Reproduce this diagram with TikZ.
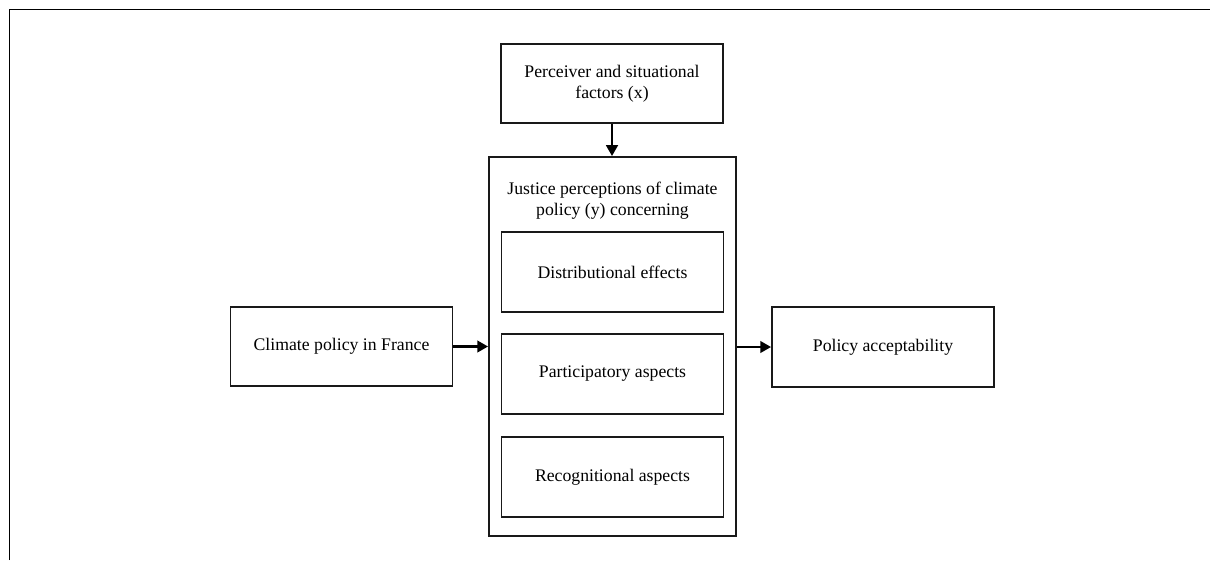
\documentclass[tikz,border=0pt]{standalone}
\usepackage{fontspec}
\setmainfont{Liberation Serif}
\usetikzlibrary{arrows.meta}
\begin{document}
\begin{tikzpicture}[x=0.025cm,y=-0.025cm,
        box/.style={draw=black!90,line width=1.3pt,minimum width=5.55cm,minimum height=1.98cm,inner sep=0pt,align=center,font=\fontsize{12.6}{14.9}\selectfont},
        link/.style={line width=1.7pt,-{Triangle[length=2.7mm,width=2.9mm]}}]
        \useasboundingbox (0,0) rectangle (1210,560);
        % open frame round the figure
        \draw[line width=1.4pt] (9.5,560) -- (9.5,9.5) -- (1210,9.5);
        \node[box] (factors) at (612,83.5) {Perceiver and situational\\factors (x)};
        \node[box,minimum width=6.175cm,minimum height=9.475cm] (justice) at (612.5,346.5) {};
        \node[align=center,font=\fontsize{12.6}{14.9}\selectfont] (head) at (612.5,201) {Justice perceptions of climate\\policy (y) concerning};
        \node[box] (distr) at (612.5,272) {Distributional effects};
        \node[box] (partic) at (612.5,374) {Participatory aspects};
        \node[box] (recog) at (612.5,477) {Recognitional aspects};
        \node[box] (policy) at (341.5,346.5) {Climate policy in France};
        \node[box] (accept) at (883,347) {Policy acceptability};
        \draw[link] (factors) -- (justice.north -| factors);
        \draw[link] (policy) -- (justice.west |- policy);
        \draw[link] (justice.east |- accept) -- (accept);
        %\draw (justice.south) -- ++(0,20);
\end{tikzpicture}
\end{document}
